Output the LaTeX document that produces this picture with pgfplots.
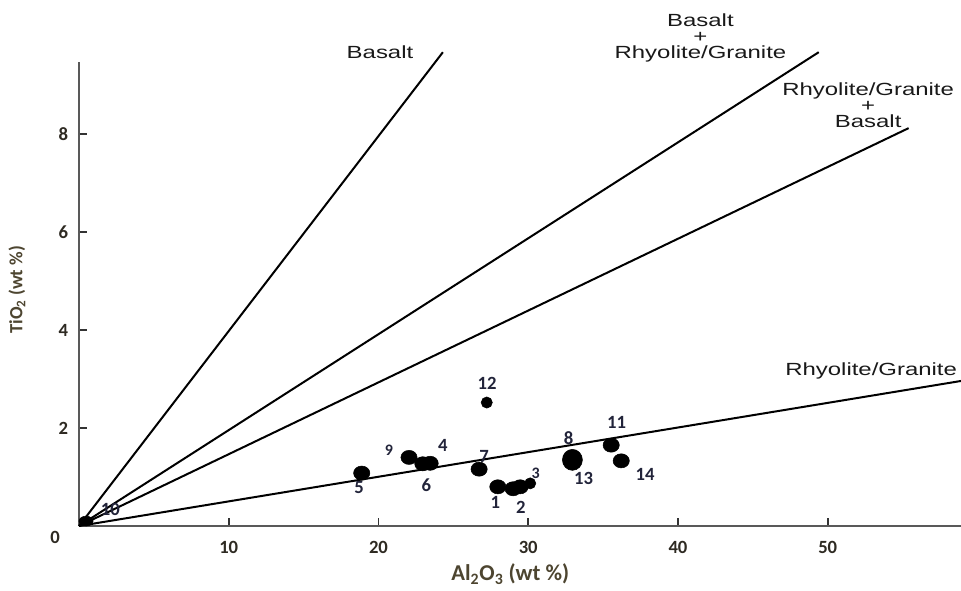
\documentclass[border=0pt]{standalone}
\usepackage{pgfplots}
\pgfplotsset{compat=1.18}
\usepackage{fontspec}
\usepackage{graphicx}
\setmainfont{Carlito}
\newfontfamily\annfont{Liberation Sans}
\definecolor{axlab}{HTML}{4D4530}
\definecolor{tickc}{HTML}{2E2A22}
\definecolor{ptlab}{HTML}{22243A}
\begin{document}
\begin{tikzpicture}
\useasboundingbox (-59.25pt,-48pt) rectangle (661.5pt,394.5pt);
\begin{axis}[
  scale only axis, width=661.5pt, height=348pt,
  xmin=0, xmax=58.9, ymin=0, ymax=9.47,
  axis lines=left,
  axis line style={draw=black!65, line width=1.6pt, -},
  xtick={10,20,30,40,50}, ytick={2,4,6,8},
  tick align=inside, major tick length=6pt,
  tick style={draw=black!80, line width=1.4pt},
  clip=false,
  /pgf/number format/assume math mode=true,
  ticklabel style={font=\bfseries\fontsize{14}{16}\selectfont, text=tickc},
  xticklabel style={anchor=north, inner sep=0pt, yshift=-11pt},
  yticklabel style={anchor=east, inner sep=0pt, xshift=-8pt},
  xlabel={Al\textsubscript{2}O\textsubscript{3} (wt \%)},
  ylabel={TiO\textsubscript{2} (wt \%)},
  xlabel style={at={(axis description cs:0.489,0)}, anchor=center, yshift=-36pt,
    font=\bfseries\fontsize{17}{19}\selectfont, text=axlab},
  ylabel style={at={(axis description cs:-0.0703,0.509)}, anchor=center,
    font=\bfseries\fontsize{14}{16}\selectfont, text=axlab},
]
% discrimination lines
\addplot[black, line width=1.5pt] coordinates {(0,0) (24.3,9.67)};
\addplot[black, line width=1.5pt] coordinates {(0,0) (49.4,9.67)};
\addplot[black, line width=1.5pt] coordinates {(0,0) (55.4,8.12)};
\addplot[black, line width=1.5pt] coordinates {(0,0) (58.9,2.96)};
% samples
\addplot[only marks, mark=*, mark size=5.3pt, black, mark options={xscale=1.15}] coordinates {
 (18.88,1.08) (22.04,1.40) (22.96,1.27) (23.45,1.28) (26.72,1.16)
 (27.97,0.80) (28.99,0.76) (29.46,0.80) (35.54,1.65) (36.21,1.33)
};
\addplot[only marks, mark=*, mark size=4.2pt, black] coordinates {(27.23,2.52) (30.13,0.87)};
\addplot[only marks, mark=*, mark size=7.5pt, black, mark options={yscale=1.05}] coordinates {(32.95,1.35)};
\addplot[only marks, mark=*, mark size=5.3pt, black, mark options={yscale=0.7}] coordinates {(0.47,0.10)};
% point labels
\begin{scope}[every node/.style={font=\bfseries\fontsize{14}{16}\selectfont, text=ptlab, inner sep=0pt}]
\node at (axis cs:27.25,2.92) {12};
\node at (axis cs:20.7,1.55) {\fontsize{12}{13}\selectfont 9};
\node at (axis cs:24.3,1.65) {4};
\node at (axis cs:23.2,0.84) {6};
\node at (axis cs:18.7,0.78) {5};
\node at (axis cs:27.05,1.41) {7};
\node at (axis cs:27.8,0.49) {1};
\node at (axis cs:29.5,0.39) {2};
\node at (axis cs:30.5,1.08) {\fontsize{12}{13}\selectfont 3};
\node at (axis cs:32.7,1.80) {8};
\node at (axis cs:33.7,0.98) {13};
\node at (axis cs:35.9,2.12) {11};
\node at (axis cs:37.8,1.06) {14};
\node at (axis cs:2.1,0.33) {10};
\end{scope}
\node[font=\bfseries\fontsize{14}{16}\selectfont, text=tickc] at (axis cs:-1.6,-0.23) {0};
% field labels
\begin{scope}[every node/.style={font=\annfont\fontsize{13.2}{14}\selectfont, text=black!90, inner sep=0pt}]
\node at (axis cs:20.1,9.67) {\scalebox{1.36}[1]{Basalt}};
\node at (axis cs:41.5,9.94) {\scalebox{1.36}[1]{\begin{tabular}{@{}c@{}}Basalt\\[-2pt]+\\[-2pt]Rhyolite/Granite\end{tabular}}};
\node at (axis cs:52.7,8.53) {\scalebox{1.36}[1]{\begin{tabular}{@{}c@{}}Rhyolite/Granite\\[-2pt]+\\[-2pt]Basalt\end{tabular}}};
\node at (axis cs:52.9,3.16) {\scalebox{1.36}[1]{Rhyolite/Granite}};
\end{scope}
\end{axis}
\end{tikzpicture}
\end{document}
